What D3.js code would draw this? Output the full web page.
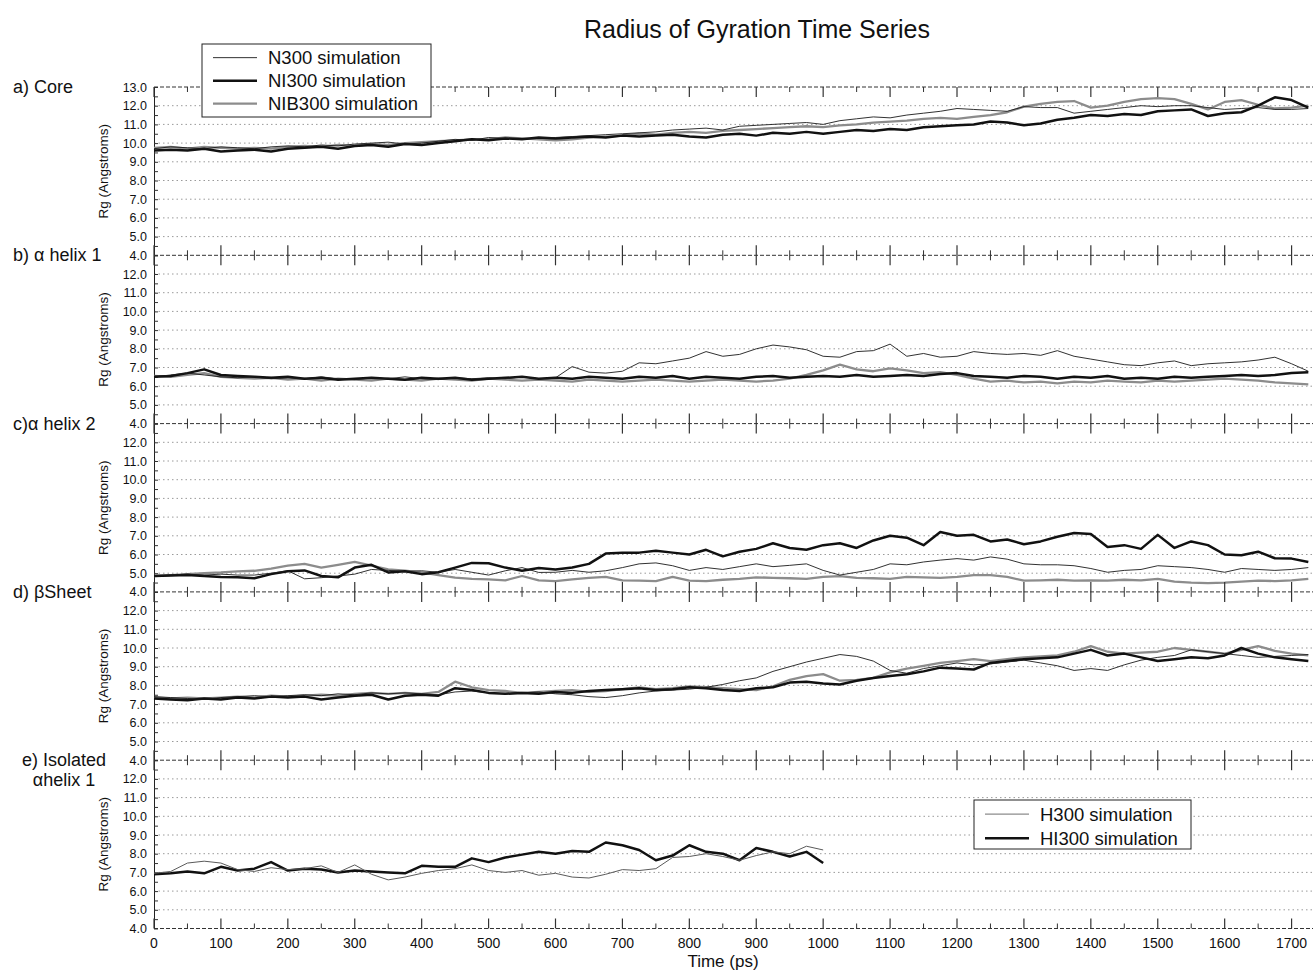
<!DOCTYPE html>
<html>
<head>
<meta charset="utf-8">
<script src="https://d3js.org/d3.v7.min.js"></script>
<style>
  body { margin: 0; background: #fff; }
  text { font-family: "Liberation Sans", Arial, Helvetica, sans-serif; fill: #111; }
</style>
</head>
<body>
<div id="chart"></div>
<script>

// sampling times (ps) for the full runs and for the isolated helix run
var timesPs = d3.range(0, 1750, 25);
var timesIso = d3.range(0, 1025, 25);

var panelLabels = [["a) Core"], ["b) \u03b1 helix 1"], ["c)\u03b1 helix 2"], ["d) \u03b2Sheet"], ["e) Isolated", "\u03b1helix 1"]];
var xTicks = [0, 100, 200, 300, 400, 500, 600, 700, 800, 900, 1000, 1100, 1200, 1300, 1400, 1500, 1600, 1700];
var yTicks = [4, 5, 6, 7, 8, 9, 10, 11, 12, 13];
var seriesNames = ["N300 simulation", "NI300 simulation", "NIB300 simulation"];
var isoNames = ["H300 simulation", "HI300 simulation"];

// a) Core
var coreN300 = [9.7,9.8,9.75,9.7,9.8,9.75,9.7,9.8,9.85,9.8,9.9,9.85,9.95,10.0,10.05,9.95,10.0,10.1,10.2,10.15,10.3,10.25,10.2,10.3,10.3,10.35,10.4,10.45,10.5,10.55,10.6,10.7,10.75,10.8,10.7,10.9,10.95,11.0,11.05,11.1,11.0,11.2,11.3,11.4,11.35,11.5,11.6,11.7,11.85,11.8,11.75,11.7,11.95,11.9,11.9,11.6,11.7,11.8,11.9,12.0,11.95,12.0,12.0,11.9,11.8,11.85,11.9,11.8,11.8,11.85];
var coreNI300 = [9.6,9.65,9.6,9.7,9.55,9.6,9.65,9.55,9.7,9.75,9.8,9.7,9.85,9.9,9.8,9.95,9.9,10.0,10.1,10.2,10.15,10.25,10.2,10.3,10.25,10.3,10.35,10.3,10.4,10.35,10.4,10.45,10.35,10.3,10.45,10.5,10.4,10.55,10.5,10.6,10.5,10.6,10.7,10.65,10.75,10.7,10.85,10.9,10.95,11.0,11.15,11.1,10.95,11.05,11.25,11.35,11.5,11.45,11.55,11.5,11.7,11.75,11.8,11.45,11.6,11.65,12.0,12.45,12.3,11.9];
var coreNIB300 = [9.75,9.8,9.7,9.8,9.75,9.7,9.75,9.7,9.8,9.85,9.8,9.9,9.85,9.95,9.9,10.0,10.05,10.1,10.15,10.2,10.2,10.3,10.25,10.2,10.15,10.2,10.3,10.35,10.4,10.5,10.45,10.55,10.6,10.55,10.65,10.7,10.75,10.8,10.85,10.9,10.85,10.95,11.0,11.1,11.15,11.2,11.3,11.35,11.3,11.4,11.5,11.65,11.95,12.1,12.2,12.25,11.9,12.0,12.2,12.35,12.4,12.35,12.1,11.8,12.2,12.3,12.05,11.85,11.9,12.0];

// b) alpha helix 1
var helix1N300 = [6.5,6.6,6.7,6.6,6.5,6.45,6.5,6.4,6.45,6.4,6.5,6.4,6.35,6.45,6.4,6.5,6.4,6.35,6.45,6.4,6.45,6.4,6.5,6.4,6.45,7.05,6.75,6.7,6.8,7.25,7.2,7.35,7.5,7.85,7.6,7.7,8.0,8.2,8.1,7.95,7.6,7.55,7.85,7.9,8.25,7.6,7.75,7.55,7.6,7.85,7.75,7.7,7.75,7.65,7.9,7.6,7.45,7.3,7.15,7.1,7.25,7.35,7.1,7.2,7.25,7.3,7.4,7.55,7.2,6.8];
var helix1NI300 = [6.5,6.55,6.7,6.9,6.6,6.55,6.5,6.45,6.5,6.4,6.45,6.35,6.4,6.45,6.4,6.35,6.45,6.4,6.45,6.35,6.4,6.45,6.5,6.4,6.45,6.4,6.5,6.45,6.4,6.5,6.45,6.55,6.4,6.5,6.45,6.4,6.5,6.55,6.45,6.5,6.55,6.5,6.6,6.5,6.55,6.6,6.55,6.65,6.7,6.55,6.5,6.45,6.55,6.5,6.4,6.5,6.45,6.55,6.4,6.45,6.4,6.5,6.45,6.5,6.55,6.6,6.55,6.6,6.7,6.75];
var helix1NIB300 = [6.55,6.5,6.6,6.7,6.5,6.45,6.4,6.45,6.35,6.4,6.3,6.4,6.35,6.3,6.4,6.35,6.3,6.4,6.35,6.3,6.4,6.35,6.3,6.35,6.3,6.25,6.35,6.3,6.25,6.3,6.35,6.3,6.25,6.3,6.35,6.3,6.25,6.3,6.4,6.6,6.85,7.15,6.9,6.8,6.95,6.85,6.7,6.75,6.6,6.4,6.25,6.3,6.2,6.25,6.15,6.25,6.2,6.3,6.25,6.2,6.3,6.25,6.3,6.35,6.4,6.35,6.3,6.2,6.15,6.1];

// c) alpha helix 2
var helix2N300 = [4.85,4.9,4.95,4.9,4.95,4.9,4.9,5.0,5.13,4.7,4.76,4.85,4.95,5.2,5.15,5.1,5.13,5.05,5.2,5.05,4.9,5.13,5.3,5.04,5.05,5.15,5.05,5.13,5.3,5.5,5.55,5.4,5.15,5.3,5.2,5.35,5.5,5.35,5.42,5.5,5.15,4.9,5.05,5.2,5.5,5.45,5.6,5.7,5.78,5.7,5.87,5.75,5.5,5.45,5.45,5.4,5.25,5.05,5.15,5.2,5.4,5.35,5.3,5.2,5.05,5.25,5.2,5.15,5.2,5.3];
var helix2NI300 = [4.85,4.88,4.9,4.85,4.8,4.78,4.73,4.95,5.1,5.15,4.85,4.78,5.3,5.45,5.04,5.1,4.95,5.05,5.3,5.55,5.53,5.3,5.13,5.28,5.2,5.3,5.5,6.05,6.1,6.1,6.2,6.1,6.0,6.25,5.9,6.15,6.3,6.6,6.35,6.25,6.5,6.6,6.35,6.75,7.0,6.9,6.5,7.2,7.0,7.05,6.7,6.8,6.55,6.7,6.95,7.15,7.1,6.4,6.5,6.3,7.05,6.35,6.7,6.5,6.0,5.96,6.15,5.8,5.78,5.6];
var helix2NIB300 = [4.85,4.9,4.95,5.0,5.04,5.1,5.13,5.25,5.4,5.5,5.3,5.45,5.6,5.4,5.2,5.13,5.04,4.9,4.76,4.7,4.67,4.62,4.85,4.62,4.58,4.67,4.75,4.8,4.62,4.6,4.58,4.8,4.6,4.58,4.65,4.7,4.78,4.75,4.73,4.7,4.8,4.84,4.75,4.73,4.7,4.8,4.78,4.75,4.8,4.9,4.9,4.8,4.6,4.62,4.65,4.6,4.62,4.6,4.65,4.62,4.7,4.55,4.5,4.47,4.5,4.55,4.6,4.58,4.62,4.7];

// d) beta sheet
var sheetN300 = [7.4,7.35,7.3,7.25,7.35,7.4,7.45,7.4,7.45,7.5,7.45,7.55,7.5,7.6,7.55,7.6,7.55,7.5,7.65,7.7,7.6,7.55,7.6,7.65,7.55,7.5,7.4,7.35,7.45,7.6,7.7,7.75,7.8,7.9,8.05,8.25,8.4,8.75,9.0,9.25,9.45,9.65,9.55,9.3,8.8,8.65,8.9,9.05,9.2,9.1,9.15,9.25,9.35,9.2,9.05,8.8,8.9,8.8,9.1,9.35,9.5,9.6,9.9,9.8,9.7,9.6,9.5,9.55,9.6,9.65];
var sheetNI300 = [7.3,7.25,7.2,7.3,7.25,7.35,7.3,7.4,7.35,7.4,7.25,7.35,7.45,7.5,7.25,7.45,7.5,7.45,7.85,7.75,7.6,7.55,7.6,7.55,7.65,7.6,7.7,7.75,7.8,7.85,7.75,7.8,7.9,7.85,7.75,7.7,7.85,7.9,8.15,8.2,8.1,8.05,8.25,8.4,8.5,8.6,8.75,8.95,8.9,8.85,9.2,9.3,9.4,9.45,9.5,9.7,9.9,9.6,9.7,9.5,9.3,9.4,9.5,9.45,9.6,10.0,9.7,9.5,9.4,9.3];
var sheetNIB300 = [7.35,7.3,7.35,7.3,7.35,7.4,7.35,7.45,7.4,7.45,7.5,7.45,7.55,7.6,7.55,7.6,7.55,7.65,8.2,7.9,7.75,7.7,7.6,7.65,7.7,7.75,7.65,7.7,7.8,7.9,7.8,7.85,7.95,7.9,7.85,7.8,7.75,7.95,8.3,8.5,8.6,8.25,8.3,8.4,8.7,8.9,9.05,9.2,9.3,9.4,9.3,9.4,9.5,9.55,9.6,9.8,10.1,9.8,9.7,9.75,9.8,10.0,9.9,9.8,9.7,9.9,10.1,9.85,9.7,9.6];

// e) isolated alpha helix 1
var isoH300 = [6.95,7.05,7.5,7.6,7.5,7.15,7.05,7.25,7.15,7.2,7.35,7.0,7.4,6.9,6.6,6.75,6.95,7.1,7.2,7.4,7.1,7.0,7.1,6.85,6.95,6.75,6.7,6.9,7.15,7.1,7.2,7.8,7.85,8.0,7.85,7.65,7.9,8.1,8.0,8.4,8.2];
var isoHI300 = [6.9,6.95,7.05,6.95,7.3,7.1,7.2,7.55,7.1,7.2,7.15,7.0,7.1,7.05,7.0,6.95,7.35,7.3,7.3,7.75,7.55,7.8,7.95,8.1,8.0,8.15,8.1,8.6,8.45,8.2,7.65,7.9,8.45,8.1,8.0,7.65,8.3,8.1,7.85,8.1,7.5];

var panels = [
  [coreN300, coreNI300, coreNIB300],
  [helix1N300, helix1NI300, helix1NIB300],
  [helix2N300, helix2NI300, helix2NIB300],
  [sheetN300, sheetNI300, sheetNIB300],
  [isoH300, isoHI300]
];

var width = 1313, height = 971;
var left = 154, top0 = 87, panelH = 168.3;

var svg = d3.select("#chart")
  .append("svg")
    .attr("width", width)
    .attr("height", height);

var x = d3.scaleLinear()
  .domain([0, 1732])
  .range([left, width]);

// styles: thin black, thick black, thick grey
var styles = [
  {stroke: "#1a1a1a", w: 0.9},
  {stroke: "#111", w: 2.5},
  {stroke: "#8c8c8c", w: 2.3}
];
var isoStyles = [
  {stroke: "#5a5a5a", w: 1.0},
  {stroke: "#111", w: 2.5}
];

svg.append("text")
  .attr("x", 757)
  .attr("y", 38)
  .attr("text-anchor", "middle")
  .style("font-size", "25px")
  .text("Radius of Gyration Time Series");

panels.forEach(function(series, i) {
  var y = d3.scaleLinear()
    .domain([4, 13])
    .range([top0 + (i + 1) * panelH, top0 + i * panelH]);

  var g = svg.append("g");

  // dotted grid at each integer
  g.selectAll(".grid")
    .data(yTicks.filter(function(v) { return v > 4 && v < 13; }))
    .enter().append("line")
      .attr("x1", left).attr("x2", width)
      .attr("y1", function(d) { return y(d); })
      .attr("y2", function(d) { return y(d); })
      .style("stroke", "#9a9a9a")
      .style("stroke-width", 1)
      .style("stroke-dasharray", "1.5,3");

  // left axis with half-unit ticks pointing inwards
  var yAxis = d3.axisLeft(y)
    .tickValues(d3.range(4, 13.01, 0.5))
    .tickSizeInner(-4)
    .tickSizeOuter(0)
    .tickPadding(7)
    .tickFormat(function(d) {
      if (d % 1 !== 0) return "";
      if (i > 0 && d === 13) return "";
      return d3.format(".1f")(d);
    });
  var ya = g.append("g")
    .attr("transform", "translate(" + left + ",0)")
    .call(yAxis);
  ya.select(".domain").style("stroke", "#222");
  ya.selectAll("line").style("stroke", "#333");
  ya.selectAll("text")
    .style("font-size", "12.5px")
    .style("font-family", "'Liberation Sans', Arial, sans-serif");

  g.append("text")
    .attr("transform", "translate(108," + y(8.5) + ") rotate(-90)")
    .attr("text-anchor", "middle")
    .style("font-size", "13.5px")
    .text("Rg (Angstroms)");

  // panel label
  var lab = panelLabels[i];
  g.selectAll(".plabel")
    .data(lab)
    .enter().append("text")
      .attr("x", lab.length > 1 ? 64 : 13)
      .attr("y", function(d, k) { return y(13) + 6 + k * 20; })
      .attr("text-anchor", lab.length > 1 ? "middle" : "start")
      .style("font-size", "18px")
      .text(function(d) { return d; });

  var line = d3.line()
    .x(function(d) { return x(d[0]); })
    .y(function(d) { return y(d[1]); });

  var st = series.length === 2 ? isoStyles : styles;
  var ts = series.length === 2 ? timesIso : timesPs;
  [2, 1, 0].forEach(function(k) {
    if (!series[k]) return;
    var pts = series[k].map(function(v, j) { return [ts[j], v]; });
    g.append("path")
      .datum(pts)
      .attr("d", line)
      .style("fill", "none")
      .style("stroke", st[k].stroke)
      .style("stroke-width", st[k].w)
      .style("stroke-linejoin", "round");
  });
});

// horizontal frame lines: top, panel boundaries, bottom
var boundaries = d3.range(0, 6).map(function(k) { return top0 + k * panelH; });
var minorX = d3.range(50, 1750, 100);

boundaries.forEach(function(by, k) {
  var up = k > 0, down = k < 5;
  svg.append("line")
    .attr("x1", left).attr("x2", width)
    .attr("y1", by).attr("y2", by)
    .style("stroke", "#333")
    .style("stroke-width", 1)
    .style("stroke-dasharray", "4,2");
  svg.selectAll(".maj" + k)
    .data(xTicks)
    .enter().append("line")
      .attr("x1", function(d) { return x(d); })
      .attr("x2", function(d) { return x(d); })
      .attr("y1", by - (up ? 10 : 0))
      .attr("y2", by + (down ? 10 : 0))
      .style("stroke", "#333")
      .style("stroke-width", 1.2);
  svg.selectAll(".min" + k)
    .data(minorX)
    .enter().append("line")
      .attr("x1", function(d) { return x(d); })
      .attr("x2", function(d) { return x(d); })
      .attr("y1", by - (up ? 5 : 0))
      .attr("y2", by + (down ? 5 : 0))
      .style("stroke", "#333")
      .style("stroke-width", 1);
});

// bottom tick labels
var bottomY = top0 + 5 * panelH;
svg.selectAll(".xlab")
  .data(xTicks)
  .enter().append("text")
    .attr("x", function(d) { return x(d); })
    .attr("y", bottomY + 19)
    .attr("text-anchor", "middle")
    .style("font-size", "14px")
    .text(function(d) { return d; });

svg.append("text")
  .attr("x", 723)
  .attr("y", 967)
  .attr("text-anchor", "middle")
  .style("font-size", "17px")
  .text("Time (ps)");

// boxed legend with line samples
function legend(x0, y0, w, h, names, st, rowH, fs) {
  var lg = svg.append("g").attr("transform", "translate(" + x0 + "," + y0 + ")");
  lg.append("rect")
    .attr("width", w).attr("height", h)
    .style("fill", "#fff")
    .style("stroke", "#222")
    .style("stroke-width", 1);
  names.forEach(function(n, k) {
    var cy = rowH * 0.55 + k * rowH + 1;
    lg.append("line")
      .attr("x1", 11).attr("x2", 55)
      .attr("y1", cy).attr("y2", cy)
      .style("stroke", st[k].stroke)
      .style("stroke-width", st[k].w);
    lg.append("text")
      .attr("x", 66)
      .attr("y", cy + fs * 0.36)
      .style("font-size", fs + "px")
      .text(n);
  });
}

legend(202, 44, 229, 73, seriesNames, styles, 23, 18.5);
legend(974, 800, 217, 49, isoNames, [{stroke: "#8c8c8c", w: 1.2}, {stroke: "#111", w: 2.5}], 24, 18.5);

</script>
</body>
</html>
